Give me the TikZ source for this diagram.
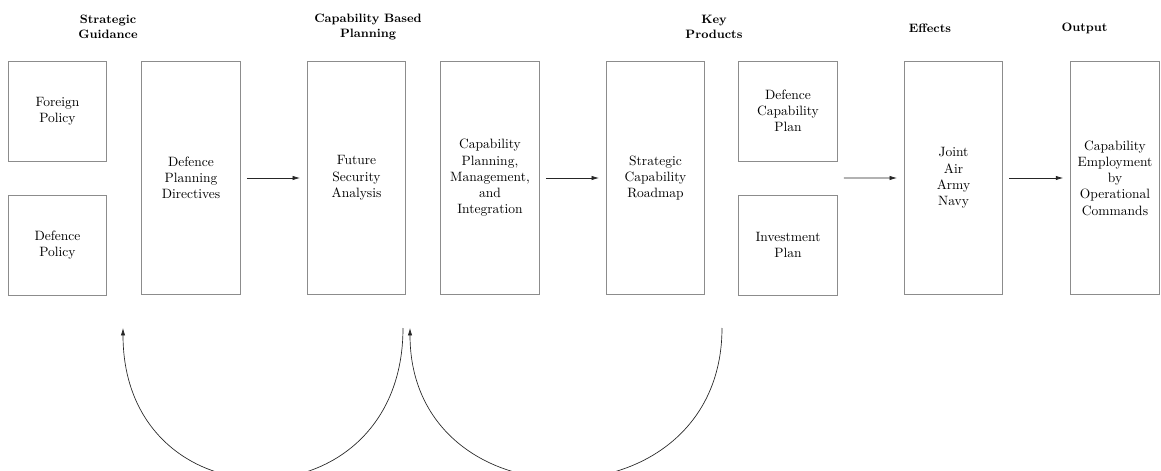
\documentclass[tikz,border=0pt]{standalone}
\usetikzlibrary{calc, arrows.meta}
\begin{document}
\begin{tikzpicture}[x=0.74pt, y=-0.74pt, >={Latex[length=5.5pt, width=3.2pt]},
			block/.style={rectangle, draw=black!45, line width=0.6pt, align=center, minimum width=73pt, minimum height=74pt, inner sep=2pt},
			tall/.style={block, minimum height=173pt},
			head/.style={align=center, font=\small\bfseries},
			link/.style={->, black!85, line width=0.5pt, shorten <=4.5pt, shorten >=5pt}]
			\useasboundingbox (0, 0) rectangle (1161, 471);
			\clip (0, 0) rectangle (1161, 471);
			% column headings
			\node[head] (h1) at (108, 27) {Strategic\\Guidance};
			\node[head] (h2) at (368, 27) {Capability Based\\Planning};
			\node[head] (h3) at (714, 27) {Key\\Products};
			\node[head] (h4) at (930, 28) {Effects};
			\node[head] (h5) at (1084.5, 28) {Output};
			% boxes
			\node[block] (fp) at (57.5, 111) {Foreign\\Policy};
			\node[block] (dp) at (57.5, 245) {Defence\\Policy};
			\node[tall] (dpd) at (191, 178) {Defence\\Planning\\Directives};
			\node[tall] (fsa) at (356.5, 178) {Future\\Security\\Analysis};
			\node[tall] (cpm) at (490, 178) {Capability\\Planning,\\Management,\\and\\Integration};
			\node[tall] (scr) at (655.5, 178) {Strategic\\Capability\\Roadmap};
			\node[block] (dcp) at (788, 111) {Defence\\Capability\\Plan};
			\node[block] (inv) at (788, 245) {Investment\\Plan};
			\node[tall] (jnt) at (953.5, 178) {Joint\\Air\\Army\\Navy};
			\node[tall, minimum width=66pt] (out) at (1115, 178) {Capability\\Employment\\by\\Operational\\Commands};
			\coordinate (kp) at ($(dcp.east)!0.5!(inv.east)$);
			% flow
			\draw[link] (dpd) -- (fsa);
			\draw[link] (cpm) -- (scr);
			\draw[link] (kp) -- (jnt);
			\draw[link] (jnt) -- (out);
			% feedback loops
			\coordinate (r1) at (403, 328);
			\coordinate (l1) at (123, 328);
			\coordinate (r2) at (722, 328);
			\coordinate (l2) at (410, 328);
			\draw[->, black!85, line width=0.5pt] (r1) .. controls +(0, 200) and +(0, 200) .. (l1);
			\draw[->, black!85, line width=0.5pt] (r2) .. controls +(0, 200) and +(0, 200) .. (l2);
		\end{tikzpicture}
\end{document}
